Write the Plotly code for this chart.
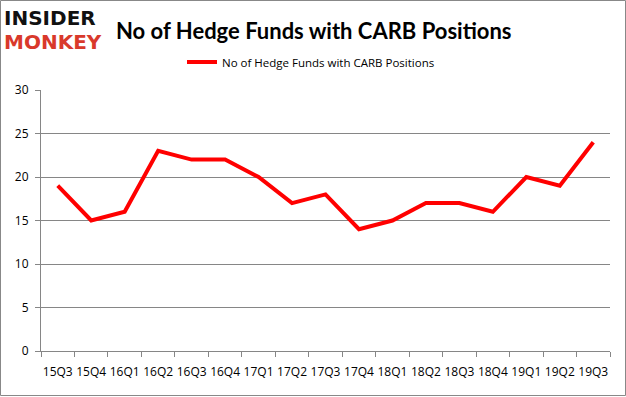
import plotly.graph_objects as go

quarters = ["15Q3","15Q4","16Q1","16Q2","16Q3","16Q4","17Q1","17Q2","17Q3",
            "17Q4","18Q1","18Q2","18Q3","18Q4","19Q1","19Q2","19Q3"]
funds = [19,15,16,23,22,22,20,17,18,14,15,17,17,16,20,19,24]
series_name = "No of Hedge Funds with CARB Positions"
y_ticks = [0,5,10,15,20,25,30]

W, H = 626, 397
L, R, T, B = 41, 16, 90, 46
pw, ph = W - L - R, H - T - B

def px(x):
    return (x - L) / pw

def py(y):
    return (H - B - y) / ph

fig = go.Figure()
fig.add_trace(go.Scatter(x=quarters, y=funds, mode="lines", name=series_name,
                         line=dict(color="#ff0000", width=4)))

fig.update_layout(
    width=W, height=H,
    margin=dict(l=L, r=R, t=T, b=B, autoexpand=False),
    paper_bgcolor="white", plot_bgcolor="white",
    font=dict(family="Open Sans, sans-serif", size=11, color="#000"),
    showlegend=True,
    legend=dict(orientation="h", x=px(182), y=py(62), xanchor="left", yanchor="middle",
                font=dict(size=11.5, color="#000"), bgcolor="rgba(0,0,0,0)"),
    xaxis=dict(type="category", tickson="boundaries", ticks="outside", ticklen=5,
               tickcolor="#868686", showline=True, linecolor="#868686", linewidth=1,
               showgrid=False, tickfont=dict(size=12), tickangle=0,
               ticklabelstandoff=10, range=[-0.5, len(quarters)-0.5]),
    yaxis=dict(range=[0, 30], tickvals=y_ticks, showgrid=True, gridcolor="#868686",
               gridwidth=1, showline=True, linecolor="#868686", ticks="outside",
               ticklen=5, tickcolor="#868686", tickfont=dict(size=12), zeroline=False,
               ticklabelstandoff=4),
)

fig.add_annotation(text="<b>No of Hedge Funds with CARB Positions</b>", xref="paper", yref="paper",
                   x=px(114), y=py(30), xanchor="left", yanchor="middle", showarrow=False,
                   font=dict(family="Lato, sans-serif", size=22, color="#000"))
fig.add_annotation(text="<b>INSIDER</b>", xref="paper", yref="paper",
                   x=px(3), y=py(18), xanchor="left", yanchor="middle", showarrow=False,
                   borderpad=0,
                   font=dict(family="DejaVu Sans", size=20, color="#111"))
fig.add_annotation(text="<b>MONKEY</b>", xref="paper", yref="paper",
                   x=px(3), y=py(42), xanchor="left", yanchor="middle", showarrow=False,
                   borderpad=0,
                   font=dict(family="DejaVu Sans", size=20, color="#d9392b"))

fig.add_shape(type="rect", xref="paper", yref="paper",
              x0=px(0.5), x1=px(625.5), y0=py(395.5), y1=py(0.5),
              line=dict(color="#888888", width=1), layer="below")

fig.write_html("out.html", config={"displayModeBar": False},
               post_script="document.body.style.margin='0';")
